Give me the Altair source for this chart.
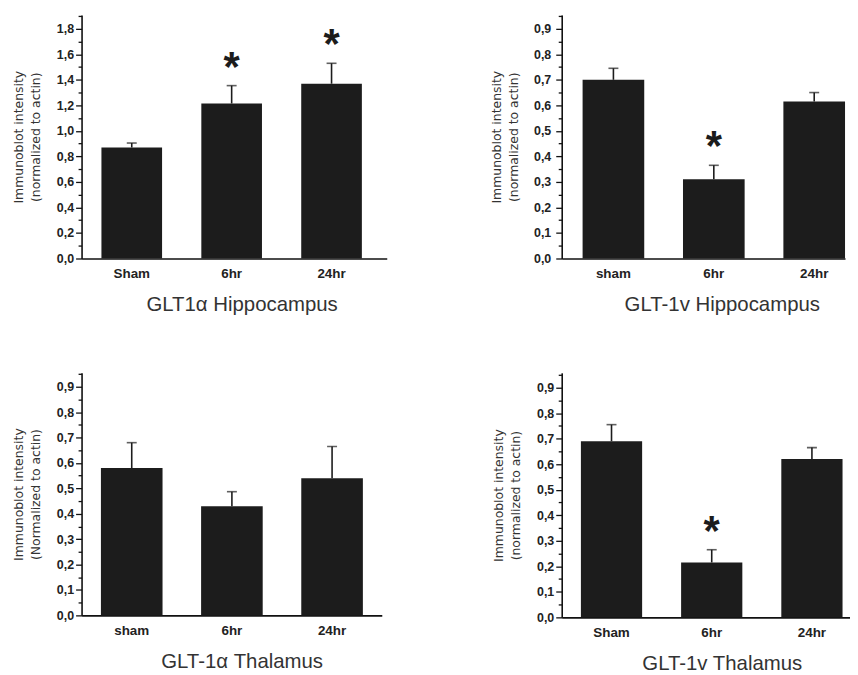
import altair as alt
import pandas as pd

# ---- data ----
cats_1 = ["Sham", "6hr", "24hr"]
mean_1 = [0.87, 1.215, 1.37]
sem_1 = [0.035, 0.14, 0.16]
star_1 = [False, True, True]

cats_2 = ["sham", "6hr", "24hr"]
mean_2 = [0.70, 0.31, 0.615]
sem_2 = [0.045, 0.055, 0.035]
star_2 = [False, True, False]

cats_3 = ["sham", "6hr", "24hr"]
mean_3 = [0.58, 0.43, 0.54]
sem_3 = [0.10, 0.057, 0.125]
star_3 = [False, False, False]

cats_4 = ["Sham", "6hr", "24hr"]
mean_4 = [0.69, 0.215, 0.62]
sem_4 = [0.065, 0.05, 0.045]
star_4 = [False, True, False]

titles = ["GLT1\u03b1 Hippocampus", "GLT-1v Hippocampus",
          "GLT-1\u03b1 Thalamus", "GLT-1v Thalamus"]
ytitles = [["Immunoblot intensity", "(normalized to actin)"],
           ["Immunoblot intensity", "(normalized to actin)"],
           ["Immunoblot intensity", "(Normalized to actin)"],
           ["Immunoblot intensity", "(normalized to actin)"]]

BAR = "#1c1c1c"


def make_panel(cats, means, sems, stars, title, ytitle, ymax, major, w, h,
               pi, po, al, lp=2, tp=14):
    tops = [round(m + s, 4) for m, s in zip(means, sems)]
    df = pd.DataFrame({
        "cat": cats,
        "mean": means,
        "top": tops,
        "star": ["*" if s else "" for s in stars],
    })
    minor = major / 2
    k = int(round(1 / minor))
    nvals = int(ymax / minor + 1e-9)
    tick_vals = [round(i * minor, 4) for i in range(nvals + 1)]
    test = f"round(datum.value*{k}) % 2 == 0"

    xenc = alt.X(
        "cat:N", sort=cats,
        scale=alt.Scale(paddingInner=pi, paddingOuter=po, align=al),
        axis=alt.Axis(
            title=title, titleX=161, titleY=52, titleBaseline="alphabetic",
            titleFontSize=20.5, titleFontWeight="normal", titleColor="#333333",
            titleFont="Liberation Sans",
            labelAngle=0, ticks=False, tickSize=0, labelPadding=8,
            labelFontSize=13.5, labelFontWeight="bold", labelColor="#222222",
            domainWidth=1.6, domainColor="#111111",
        ),
    )
    yscale = alt.Scale(domain=[0, ymax], nice=False, zero=True)
    yaxis = alt.Axis(
        title=ytitle, values=tick_vals,
        labelExpr=f"{test} ? replace(format(datum.value, '.1f'), '.', ',') : ''",
        tickSize={"condition": {"test": test, "value": 6}, "value": 3.5},
        tickWidth=1.3, tickColor="#111111",
        labelOverlap=False, labelFlush=False, grid=False,
        labelPadding=lp, labelFontSize=12.5, labelFontWeight="bold",
        labelColor="#222222",
        titlePadding=tp, titleFont="DejaVu Sans", titleFontSize=12.5,
        titleFontWeight="normal", titleLineHeight=17, titleColor="#333333",
        domainWidth=1.6, domainColor="#111111",
    )
    base = alt.Chart(df).encode(x=xenc)
    bars = base.mark_bar(color=BAR).encode(
        y=alt.Y("mean:Q", scale=yscale, axis=yaxis))
    err = base.mark_rule(color=BAR, strokeWidth=1.6).encode(
        y=alt.Y("mean:Q", scale=yscale, axis=yaxis), y2="top:Q")
    cap = base.mark_tick(color=BAR, thickness=1.6, size=10).encode(
        y=alt.Y("top:Q", scale=yscale, axis=yaxis))
    star = base.mark_text(
        font="Liberation Sans", fontSize=42, fontWeight="bold",
        baseline="alphabetic", dy=-5, color=BAR,
    ).encode(y=alt.Y("top:Q", scale=yscale, axis=yaxis), text="star:N")
    return alt.layer(bars, err, cap, star).properties(width=w, height=h)


p1 = make_panel(cats_1, mean_1, sem_1, star_1, titles[0], ytitles[0],
                1.909, 0.2, 307, 245, 0.393, 0.224, 0.444)
p2 = make_panel(cats_2, mean_2, sem_2, star_2, titles[1], ytitles[1],
                0.954, 0.1, 285, 245, 0.386, 0.104, 1.0, lp=5, tp=13)
p3 = make_panel(cats_3, mean_3, sem_3, star_3, titles[2], ytitles[2],
                0.955, 0.1, 302, 244, 0.385, 0.191, 0.506)
p4 = make_panel(cats_4, mean_4, sem_4, star_4, titles[3], ytitles[3],
                0.958, 0.1, 290, 246, 0.389, 0.133, 0.72)

chart = alt.concat(
    p1, p2, p3, p4, columns=2, align="none", bounds="flush",
    spacing={"row": 115, "column": 176},
).properties(
    padding={"left": 4, "top": 0, "right": 0, "bottom": 0},
).configure_view(stroke=None).configure_axis(labelFont="Liberation Sans")

chart.save("out.html", embed_options={"renderer": "svg", "actions": False})
